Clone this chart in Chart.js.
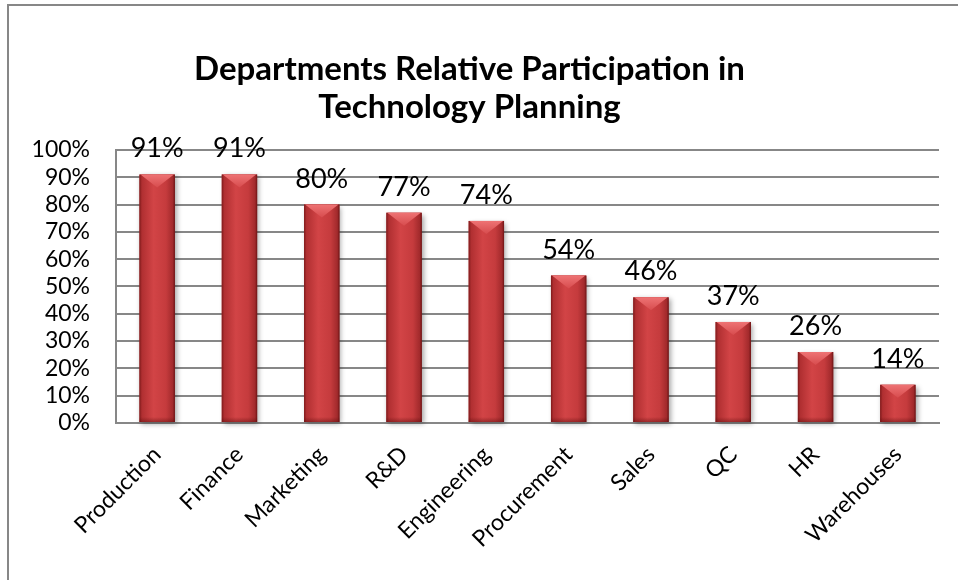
<!DOCTYPE html>
<html>
<head>
<meta charset="utf-8">
<script src="https://cdn.jsdelivr.net/npm/chart.js@4.4.1/dist/chart.umd.min.js"></script>
<style>
html, body { margin: 0; padding: 0; background: #fff; }
#wrap { position: relative; width: 958px; height: 580px; overflow: hidden; }
#frame { position: absolute; left: 7px; top: 4px; right: -10px; bottom: -10px; border-top: 2px solid #878787; border-left: 2px solid #878787; }
canvas { position: absolute; left: 0; top: 0; }
</style>
</head>
<body>
<div id="wrap">
<div id="frame"></div>
<canvas id="chart" width="958" height="580"></canvas>
</div>
<script>
const departments = ["Production", "Finance", "Marketing", "R&D", "Engineering", "Procurement", "Sales", "QC", "HR", "Warehouses"]
const participation = [91, 91, 80, 77, 74, 54, 46, 37, 26, 14]
const tickValues = [0, 10, 20, 30, 40, 50, 60, 70, 80, 90, 100]

const FONT = "Lato, 'Liberation Sans', sans-serif"

// shaded cylinder-ish bars with a bevelled top, drawn over the library's bars
const barShading = {
  id: "barShading",
  afterDatasetsDraw(chart) {
    const ctx = chart.ctx
    chart.getDatasetMeta(0).data.forEach(bar => {
      const w = bar.width
      const left = bar.x - w / 2
      const right = bar.x + w / 2
      const top = bar.y
      const bottom = bar.base
      const h = bottom - top

      ctx.save()
      ctx.shadowColor = "rgba(0,0,0,0.35)"
      ctx.shadowBlur = 5
      ctx.shadowOffsetX = 2
      ctx.shadowOffsetY = 2
      const body = ctx.createLinearGradient(left, 0, right, 0)
      body.addColorStop(0, "#7e1a1b")
      body.addColorStop(0.07, "#b02f31")
      body.addColorStop(0.4, "#d24446")
      body.addColorStop(0.75, "#c53b3d")
      body.addColorStop(0.94, "#a22a2c")
      body.addColorStop(1, "#6e1415")
      ctx.fillStyle = body
      ctx.fillRect(left, top, w, h)
      ctx.restore()

      // top bevel
      const bev = Math.min(13, h / 2)
      ctx.save()
      const g = ctx.createLinearGradient(0, top, 0, top + bev)
      g.addColorStop(0, "#ee7374")
      g.addColorStop(1, "#d74c4e")
      ctx.fillStyle = g
      ctx.beginPath()
      ctx.moveTo(left + 1, top)
      ctx.lineTo(right - 1, top)
      ctx.lineTo(bar.x, top + bev)
      ctx.closePath()
      ctx.fill()
      // darker bottom shade
      const b = ctx.createLinearGradient(0, bottom - 5, 0, bottom)
      b.addColorStop(0, "rgba(90,10,10,0)")
      b.addColorStop(1, "rgba(90,10,10,0.45)")
      ctx.fillStyle = b
      ctx.fillRect(left, bottom - 5, w, 5)
      ctx.restore()
    })
  }
}

// percentage labels above the bars
const valueLabels = {
  id: "valueLabels",
  afterDatasetsDraw(chart) {
    const ctx = chart.ctx
    const values = chart.data.datasets[0].data
    ctx.save()
    ctx.font = "27px " + FONT
    ctx.fillStyle = "#000"
    ctx.textAlign = "center"
    ctx.textBaseline = "alphabetic"
    chart.getDatasetMeta(0).data.forEach((bar, i) => {
      ctx.fillText(values[i] + "%", bar.x, bar.y - 17)
    })
    ctx.restore()
  }
}

new Chart(document.getElementById("chart"), {
  type: "bar",
  data: {
    labels: departments,
    datasets: [{
      data: participation,
      backgroundColor: "#c63c3e",
      borderWidth: 0,
      barPercentage: 0.43,
      categoryPercentage: 1
    }]
  },
  options: {
    responsive: false,
    animation: false,
    layout: { padding: { left: 0, right: 19, top: 0, bottom: 0 } },
    plugins: {
      legend: { display: false },
      tooltip: { enabled: false },
      title: {
        display: true,
        text: ["Departments Relative Participation in", "Technology Planning"],
        color: "#000",
        font: { family: FONT, size: 33, weight: "bold", lineHeight: 1.15 },
        padding: { top: 50, bottom: 24 }
      }
    },
    scales: {
      x: {
        grid: { display: false, drawTicks: false },
        border: { display: true, color: "#878787", width: 2 },
        ticks: {
          color: "#000",
          font: { family: FONT, size: 23 },
          minRotation: 45,
          maxRotation: 45,
          padding: 18
        },
        afterFit(scale) { scale.height = 157 }
      },
      y: {
        min: 0,
        max: 100,
        grid: { color: "#878787", lineWidth: 2, drawTicks: false },
        border: { display: true, color: "#878787", width: 2 },
        afterBuildTicks(scale) { scale.ticks = tickValues.map(v => ({ value: v })) },
        ticks: {
          color: "#000",
          font: { family: FONT, size: 23 },
          padding: 26,
          stepSize: 10,
          autoSkip: false,
          callback: v => v + "%"
        },
        afterFit(scale) { scale.width = 116 }
      }
    }
  },
  plugins: [barShading, valueLabels]
})
</script>
</body>
</html>
